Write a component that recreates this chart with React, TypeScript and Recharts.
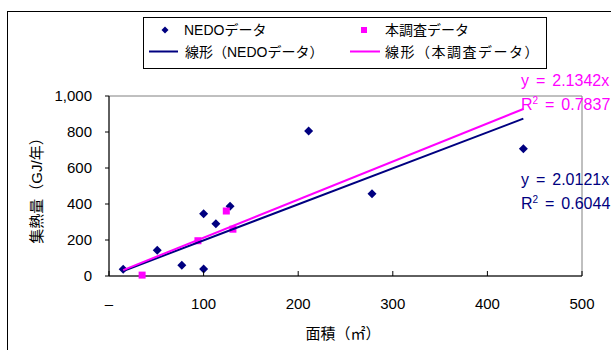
import React from 'react';
import { ScatterChart, Scatter, XAxis, YAxis, ReferenceArea } from 'recharts';

// NEDO data (area m², heat GJ/year)
const nedoArea = [15, 51, 77, 100, 100, 113, 128, 211, 278, 438];
const nedoHeat = [37, 143, 60, 346, 39, 290, 387, 805, 457, 707];
// This survey data
const surveyArea = [35, 94, 124, 131];
const surveyHeat = [5, 196, 361, 260];
// Linear trendline end points as drawn
const nedoTrendArea = [15, 438];
const nedoTrendHeat = [28, 874];
const surveyTrendArea = [15, 438];
const surveyTrendHeat = [33, 928];

const xTicks = [0, 100, 200, 300, 400, 500];
const yTicks = [0, 200, 400, 600, 800, 1000];

const legendLabels = ['NEDOデータ', '本調査データ', '線形（NEDOデータ）', '線形（本調査データ）'];
const nedoEq = ['y = 2.0121x', '= 0.6044'];
const surveyEq = ['y = 2.1342x', '= 0.7837'];
const xTitle = '面積（㎡）';
const yTitle = '集熱量（GJ/年）';

const NAVY = '#000080';
const MAGENTA = '#FF00FF';
const FONT = '"Liberation Sans", "Noto Sans CJK JP", sans-serif';

const zip = (xs: number[], ys: number[]) => xs.map((x, i) => ({ x, y: ys[i] }));
const nedoData = zip(nedoArea, nedoHeat);
const surveyData = zip(surveyArea, surveyHeat);
const nedoTrend = zip(nedoTrendArea, nedoTrendHeat);
const surveyTrend = zip(surveyTrendArea, surveyTrendHeat);

const Diamond = (props: any) => {
  const { cx, cy } = props;
  if (cx == null || cy == null) return <g />;
  const r = 4.5;
  return <polygon points={`${cx},${cy - r} ${cx + r},${cy} ${cx},${cy + r} ${cx - r},${cy}`} fill={NAVY} />;
};
const Square = (props: any) => {
  const { cx, cy } = props;
  if (cx == null || cy == null) return <g />;
  const s = 7;
  return <rect x={cx - s / 2} y={cy - s / 2} width={s} height={s} fill={MAGENTA} />;
};
const NoShape = () => <g />;

const XTick = (props: any) => {
  const { x, y, payload } = props;
  const label = payload.value === 0 ? '–' : String(payload.value);
  return (
    <g>
      <line x1={x} x2={x} y1={y} y2={y - 5} stroke="#000" strokeWidth={1} />
      <text x={x} y={y + 27} textAnchor="middle" dominantBaseline="central" fontSize={15} fill="#000" fontFamily={FONT}>
        {label}
      </text>
    </g>
  );
};

const sup = { fontSize: 10, position: 'relative' as const, top: -6 };
const eqStyle = { position: 'absolute' as const, left: 521, lineHeight: '20px', fontSize: 16, whiteSpace: 'pre' as const, wordSpacing: 2.5 };

export default function App() {
  return (
    <div style={{ position: 'absolute', left: 0, top: 0, width: 611, height: 350, overflow: 'hidden', background: '#fff', fontFamily: FONT }}>
      <div style={{ position: 'absolute', left: 7, top: 11, width: 640, height: 400, border: '1px solid #000' }} />
      <div style={{ position: 'absolute', left: 0, top: 0 }}>
        <ScatterChart width={611} height={350} margin={{ top: 96, right: 29, bottom: 0, left: 0 }}>
          <XAxis
            type="number"
            dataKey="x"
            domain={[0, 500]}
            ticks={xTicks}
            height={74}
            axisLine={{ stroke: '#000' }}
            tickLine={false}
            tickSize={0}
            tickMargin={0}
            tick={<XTick />}
            interval={0}
          />
          <YAxis
            type="number"
            dataKey="y"
            domain={[0, 1000]}
            ticks={yTicks}
            width={109}
            axisLine={{ stroke: '#000' }}
            tickLine={{ stroke: '#000' }}
            tickSize={4}
            tickMargin={13}
            interval={0}
            tick={{ fill: '#000', fontSize: 15, fontFamily: FONT }}
            tickFormatter={(v: number) => v.toLocaleString('en-US')}
          />
          <ReferenceArea x1={0} x2={500} y1={0} y2={1000} fill="none" stroke="#808080" strokeWidth={1} />
          <Scatter data={nedoData} shape={<Diamond />} isAnimationActive={false} legendType="none" />
          <Scatter data={surveyData} shape={<Square />} isAnimationActive={false} legendType="none" />
          <Scatter data={nedoTrend} line={{ stroke: NAVY, strokeWidth: 2 }} shape={<NoShape />} isAnimationActive={false} legendType="none" />
          <Scatter data={surveyTrend} line={{ stroke: MAGENTA, strokeWidth: 2 }} shape={<NoShape />} isAnimationActive={false} legendType="none" />
        </ScatterChart>
      </div>

      {/* Legend */}
      <div style={{ position: 'absolute', left: 143, top: 17, width: 404, height: 52, border: '1px solid #000', boxSizing: 'border-box', background: '#fff', fontSize: 14, color: '#000' }}>
        <svg width={404} height={52} style={{ position: 'absolute', left: -1, top: -1 }}>
          <polygon points="22,9.5 25.5,13 22,16.5 18.5,13" fill={NAVY} />
          <rect x={218} y={10} width={6} height={6} fill={MAGENTA} />
          <line x1={6} x2={35} y1={34.5} y2={34.5} stroke={NAVY} strokeWidth={2} />
          <line x1={207} x2={237} y1={34.5} y2={34.5} stroke={MAGENTA} strokeWidth={2} />
        </svg>
        <div style={{ position: 'absolute', left: 40, top: 2, lineHeight: '20px', whiteSpace: 'pre' }}>{legendLabels[0]}</div>
        <div style={{ position: 'absolute', left: 241, top: 2, lineHeight: '20px', whiteSpace: 'pre' }}>{legendLabels[1]}</div>
        <div style={{ position: 'absolute', left: 41, top: 24, lineHeight: '20px', whiteSpace: 'pre' }}>{legendLabels[2]}</div>
        <div style={{ position: 'absolute', left: 241, top: 24, lineHeight: '20px', whiteSpace: 'pre', letterSpacing: 1.5 }}>{legendLabels[3]}</div>
      </div>

      {/* Trendline equations */}
      <div style={{ ...eqStyle, top: 71, color: MAGENTA }}>{surveyEq[0]}</div>
      <div style={{ ...eqStyle, top: 95, color: MAGENTA }}>
        R<span style={sup}>2</span> {surveyEq[1]}
      </div>
      <div style={{ ...eqStyle, top: 170, color: NAVY }}>{nedoEq[0]}</div>
      <div style={{ ...eqStyle, top: 194, color: NAVY }}>
        R<span style={sup}>2</span> {nedoEq[1]}
      </div>

      {/* Axis titles */}
      <div style={{ position: 'absolute', left: 343, top: 332, transform: 'translate(-50%, -50%)', fontSize: 15, whiteSpace: 'pre', color: '#000' }}>{xTitle}</div>
      <div style={{ position: 'absolute', left: 35, top: 187, transform: 'translate(-50%, -50%) rotate(-90deg)', fontSize: 15, whiteSpace: 'pre', color: '#000' }}>{yTitle}</div>
    </div>
  );
}
